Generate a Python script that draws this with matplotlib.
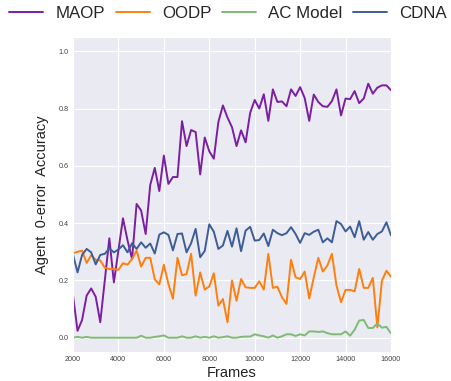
import numpy as np
import matplotlib
matplotlib.use('Agg')
import matplotlib.pyplot as plt
import seaborn as sns

sns.set_style('darkgrid')
plt.rcParams['font.family'] = ['Liberation Sans', 'DejaVu Sans']

# frames 2000 .. 16000, every 200
frames = np.arange(2000, 16001, 200)

maop = [0.149, 0.024, 0.062, 0.147, 0.172, 0.143, 0.054, 0.200, 0.347, 0.193,
        0.305, 0.417, 0.340, 0.275, 0.467, 0.444, 0.362, 0.533, 0.593, 0.512,
        0.636, 0.537, 0.561, 0.561, 0.756, 0.669, 0.725, 0.718, 0.570, 0.699,
        0.651, 0.625, 0.753, 0.811, 0.769, 0.735, 0.669, 0.724, 0.682, 0.785,
        0.830, 0.800, 0.850, 0.757, 0.867, 0.823, 0.825, 0.808, 0.867, 0.844,
        0.875, 0.837, 0.757, 0.849, 0.823, 0.808, 0.806, 0.826, 0.867, 0.776,
        0.835, 0.833, 0.861, 0.819, 0.835, 0.887, 0.852, 0.873, 0.881, 0.881,
        0.864]

oodp = [0.295, 0.300, 0.304, 0.261, 0.288, 0.272, 0.270, 0.244, 0.240, 0.240,
        0.237, 0.260, 0.255, 0.275, 0.304, 0.248, 0.279, 0.279, 0.204, 0.186,
        0.255, 0.188, 0.136, 0.279, 0.218, 0.222, 0.293, 0.147, 0.228, 0.168,
        0.179, 0.225, 0.112, 0.135, 0.054, 0.200, 0.129, 0.205, 0.176, 0.174,
        0.174, 0.197, 0.168, 0.293, 0.174, 0.178, 0.141, 0.118, 0.272, 0.211,
        0.205, 0.231, 0.137, 0.210, 0.279, 0.231, 0.252, 0.293, 0.182, 0.124,
        0.167, 0.167, 0.162, 0.240, 0.174, 0.174, 0.209, 0.036, 0.199, 0.234,
        0.213]

ac_model = [0.000, 0.003, 0.000, 0.003, 0.000, 0.000, 0.000, 0.000, 0.000, 0.000,
            0.000, 0.000, 0.000, 0.000, 0.000, 0.007, 0.000, 0.000, 0.003, 0.005,
            0.008, 0.000, 0.000, 0.000, 0.005, 0.000, 0.000, 0.005, 0.000, 0.003,
            0.000, 0.005, 0.000, 0.002, 0.005, 0.000, 0.000, 0.003, 0.004, 0.004,
            0.012, 0.008, 0.005, 0.000, 0.008, 0.000, 0.005, 0.012, 0.012, 0.006,
            0.012, 0.008, 0.022, 0.022, 0.020, 0.022, 0.016, 0.012, 0.012, 0.012,
            0.022, 0.007, 0.028, 0.060, 0.062, 0.034, 0.034, 0.050, 0.035, 0.038,
            0.015]

cdna = [0.290, 0.228, 0.289, 0.310, 0.298, 0.256, 0.289, 0.293, 0.312, 0.298,
        0.308, 0.323, 0.298, 0.330, 0.310, 0.333, 0.314, 0.329, 0.294, 0.360,
        0.368, 0.359, 0.305, 0.362, 0.364, 0.298, 0.330, 0.380, 0.281, 0.303,
        0.396, 0.370, 0.310, 0.322, 0.373, 0.318, 0.382, 0.302, 0.374, 0.387,
        0.339, 0.341, 0.364, 0.320, 0.377, 0.365, 0.358, 0.365, 0.386, 0.362,
        0.331, 0.365, 0.359, 0.370, 0.377, 0.333, 0.347, 0.333, 0.407, 0.397,
        0.371, 0.388, 0.351, 0.407, 0.342, 0.369, 0.342, 0.362, 0.371, 0.403,
        0.357]

fig = plt.figure(figsize=(4.52, 3.81), dpi=100)
ax = fig.add_axes([0.1615, 0.076, 0.7035, 0.827])

ax.plot(frames, maop, color='#7b1fa2', lw=1.4, label='MAOP')
ax.plot(frames, oodp, color='#ff7f0e', lw=1.4, label='OODP')
ax.plot(frames, ac_model, color='#7fba76', lw=1.4, label='AC Model')
ax.plot(frames, cdna, color='#3d5d96', lw=1.4, label='CDNA')

ax.set_xlim(2000, 16000)
ax.set_ylim(-0.05, 1.05)
ax.set_xticks(range(2000, 16001, 2000))
ax.set_yticks([0.0, 0.2, 0.4, 0.6, 0.8, 1.0])
ax.tick_params(labelsize=5.2, colors='#444444', length=0, pad=3)
ax.set_xlabel('Frames', fontsize=10.5, color='#222222', labelpad=2)
ax.set_ylabel('Agent  0-error  Accuracy', fontsize=10.5, color='#222222', labelpad=7)

fig.legend(loc='upper center', bbox_to_anchor=(0.505, 1.025), ncol=4, frameon=False,
           fontsize=12.2, handlelength=2.0, handletextpad=0.75, columnspacing=0.6)

fig.savefig('out.png', dpi=100)
